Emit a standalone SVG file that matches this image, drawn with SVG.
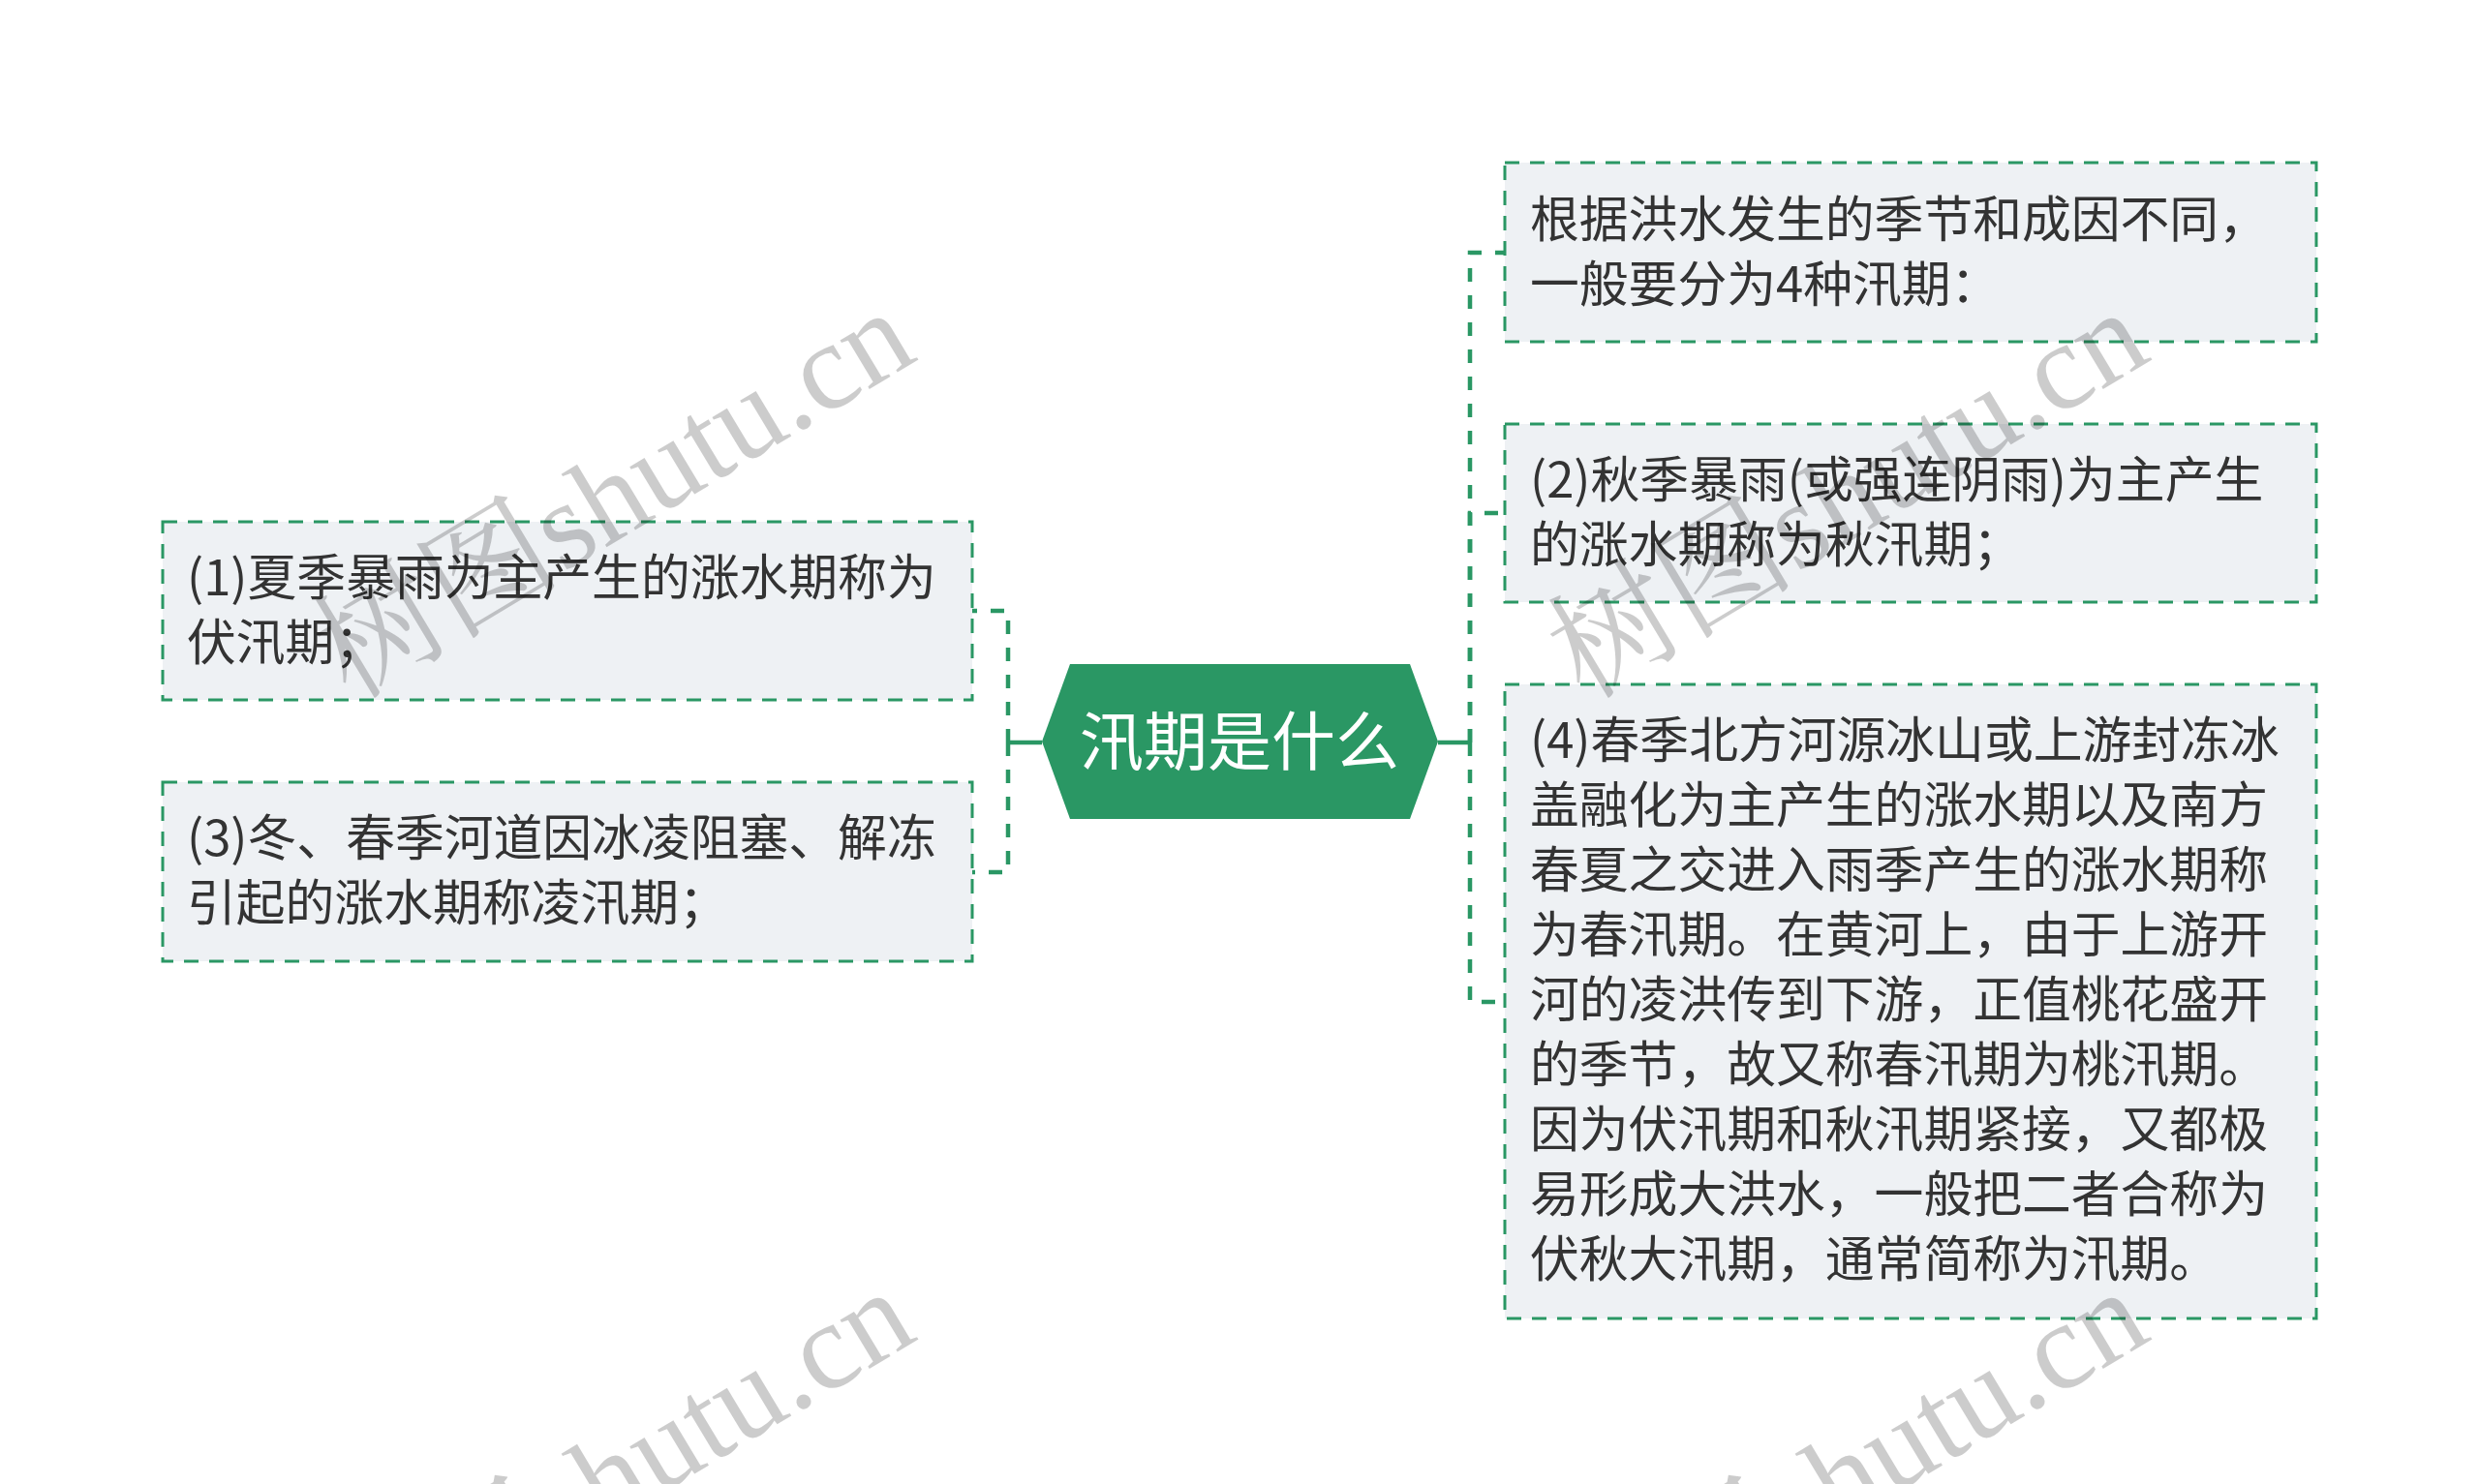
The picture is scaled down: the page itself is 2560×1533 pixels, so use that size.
<svg xmlns="http://www.w3.org/2000/svg" width="2560" height="1533" viewBox="0 0 2560 1533">
<style>
.box{fill:#eef1f4;stroke:#2a9764;stroke-width:3;stroke-dasharray:15 11}
.t{font-family:"Noto Sans CJK SC","Noto Sans",sans-serif;font-size:50.8px;fill:#333333}
.ct{font-family:"Noto Sans CJK SC","Noto Sans",sans-serif;font-size:66px;fill:#ffffff}
.ln{fill:none;stroke:#2a9764;stroke-width:4.5;stroke-dasharray:14 14}
.wm{font-family:"Liberation Serif","Noto Serif CJK SC","Noto Sans CJK SC",serif;font-size:128px;fill:#000000;fill-opacity:0.2}
</style>
<rect width="2560" height="1533" fill="#ffffff"/>
<g id="connectors">
<path d="M1485 767 H1518" fill="none" stroke="#2a9764" stroke-width="4.5"/>
<path class="ln" d="M1518 767 V261 H1555"/>
<path class="ln" d="M1518 767 V530 H1555"/>
<path class="ln" d="M1518 767 V1035 H1555"/>
<path d="M1076 767 H1041" fill="none" stroke="#2a9764" stroke-width="4.5"/>
<path class="ln" d="M1041 767 V631 H1004"/>
<path class="ln" d="M1041 767 V901 H1004"/>
</g>
<g id="center">
<polygon points="1076,766 1105,686 1456,686 1485,766 1456,846 1105,846" fill="#2a9764"/>
<text class="ct" x="1280" y="790" text-anchor="middle">汛期是什么</text>
</g>
<g id="r1">
<rect class="box" x="1554" y="168" width="838" height="185"/>
<text class="t" x="1580" y="245">根据洪水发生的季节和成因不同，</text>
<text class="t" x="1580" y="312">一般要分为4种汛期：</text>
</g>
<g id="r2">
<rect class="box" x="1554" y="438" width="838" height="184"/>
<text class="t" x="1580" y="514">(2)秋季暴雨(或强连阴雨)为主产生</text>
<text class="t" x="1580" y="581">的涨水期称为秋汛期；</text>
</g>
<g id="r3">
<rect class="box" x="1554" y="707" width="838" height="655"/>
<text class="t" x="1580" y="783">(4)春季北方河源冰山或上游封冻冰</text>
<text class="t" x="1580" y="850">盖融化为主产生的涨水期以及南方</text>
<text class="t" x="1580" y="917">春夏之交进入雨季产生的涨水期称</text>
<text class="t" x="1580" y="984">为春汛期。在黄河上，由于上游开</text>
<text class="t" x="1580" y="1051">河的凌洪传到下游，正值桃花盛开</text>
<text class="t" x="1580" y="1118">的季节，故又称春汛期为桃汛期。</text>
<text class="t" x="1580" y="1185">因为伏汛期和秋汛期紧接，又都极</text>
<text class="t" x="1580" y="1252">易形成大洪水，一般把二者合称为</text>
<text class="t" x="1580" y="1319">伏秋大汛期，通常简称为汛期。</text>
</g>
<g id="l1">
<rect class="box" x="168" y="539" width="836" height="184"/>
<text class="t" x="193" y="615">(1)夏季暴雨为主产生的涨水期称为</text>
<text class="t" x="193" y="682">伏汛期；</text>
</g>
<g id="l2">
<rect class="box" x="168" y="808" width="836" height="185"/>
<text class="t" x="193" y="884">(3)冬、春季河道因冰凌阻塞、解冻</text>
<text class="t" x="193" y="951">引起的涨水期称凌汛期；</text>
</g>
<g id="watermarks">
<text class="wm" transform="translate(362,724) rotate(-31)">树图shutu.cn</text>
<text class="wm" transform="translate(1636,724) rotate(-31)">树图shutu.cn</text>
<text class="wm" transform="translate(362,1736) rotate(-31)">树图shutu.cn</text>
<text class="wm" transform="translate(1636,1736) rotate(-31)">树图shutu.cn</text>
</g>
</svg>
